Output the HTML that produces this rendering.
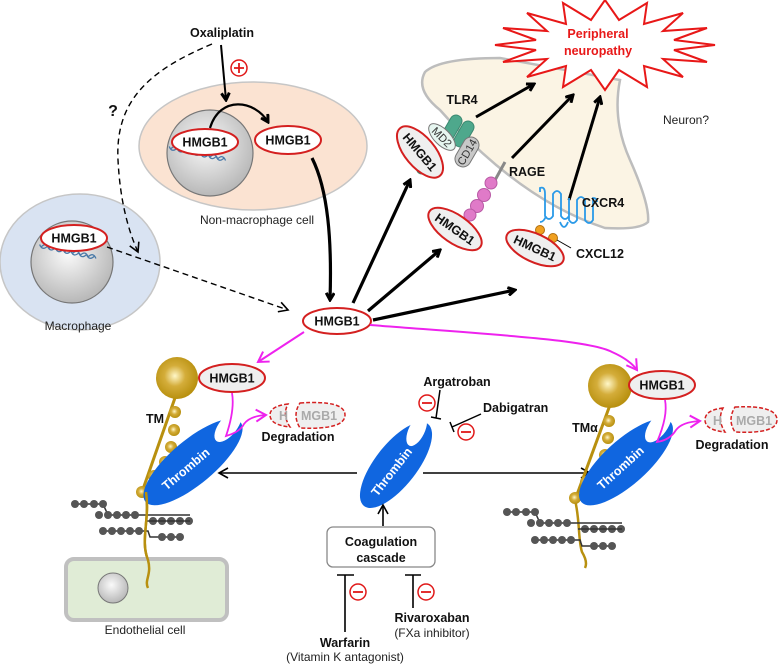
<!DOCTYPE html>
<html><head><meta charset="utf-8"><style>
html,body{margin:0;padding:0;background:#fff;}
svg{display:block;font-family:"Liberation Sans",Arial,sans-serif;}
.b{font-weight:bold;font-size:12.5px;fill:#111;}
.n{font-size:12px;fill:#222;}
</style></head><body>
<svg width="778" height="664" viewBox="0 0 778 664" xmlns="http://www.w3.org/2000/svg">
<defs>
<radialGradient id="nuc" cx="45%" cy="40%" r="60%"><stop offset="0" stop-color="#fafafa"/><stop offset="1" stop-color="#b8b8b8"/></radialGradient>
<radialGradient id="gold" cx="45%" cy="45%" r="55%"><stop offset="0" stop-color="#fff7c8"/><stop offset="0.45" stop-color="#d4ad3a"/><stop offset="1" stop-color="#b8900f"/></radialGradient>
<marker id="ah" markerWidth="10" markerHeight="10" refX="8" refY="5" orient="auto" markerUnits="userSpaceOnUse"><path d="M1,1 L8,5 L1,9" fill="none" stroke="#000" stroke-width="3"/></marker>
<marker id="ahs" markerWidth="12" markerHeight="12" refX="10" refY="6" orient="auto" markerUnits="userSpaceOnUse"><path d="M1,1 L10,6 L1,11" fill="none" stroke="#000" stroke-width="1.6"/></marker>
<marker id="ahm" markerWidth="14" markerHeight="14" refX="11" refY="7" orient="auto" markerUnits="userSpaceOnUse"><path d="M1,1 L11,7 L1,13" fill="none" stroke="#ee22ee" stroke-width="2"/></marker>
</defs>

<!-- Neuron -->
<path d="M425,72 Q440,58 500,58 L620,80 Q612,120 630,160 Q650,205 648,222 Q640,230 605,228 Q520,200 440,110 Q415,90 425,72 Z" fill="#fbf4e4" stroke="#bdbdbd" stroke-width="2.5"/>
<!-- starburst -->
<polygon points="715,45 674,50 707,62 663,59 683,77 644,66 647,87 619,70 605,90 591,70 563,87 566,66 527,77 547,59 503,62 536,50 495,45 536,40 503,28 547,31 527,13 566,24 563,3 591,20 605,0 619,20 647,3 644,24 683,13 663,31 707,28 674,40" fill="#fff" stroke="#e81818" stroke-width="2"/>
<text x="598" y="38" text-anchor="middle" style="font-weight:bold;font-size:12.5px;fill:#e81818">Peripheral</text>
<text x="598" y="55" text-anchor="middle" style="font-weight:bold;font-size:12.5px;fill:#e81818">neuropathy</text>
<text x="663" y="124" class="n">Neuron?</text>

<!-- Non-macrophage cell -->
<ellipse cx="253" cy="146" rx="114" ry="64" fill="#fbe3d2" stroke="#c6c6c6" stroke-width="1.5"/>
<circle cx="210" cy="153" r="43" fill="url(#nuc)" stroke="#777" stroke-width="1.2"/>
<path d="M168,152 q4,6 8,0 q4,6 8,0 q4,6 8,0 q4,6 8,0 q4,6 8,0 q4,6 8,0 q4,6 8,0 M170,154 q4,-6 8,0 q4,-6 8,0 q4,-6 8,0 q4,-6 8,0 q4,-6 8,0 q4,-6 8,0 q4,-6 8,0" fill="none" stroke="#4a7aa8" stroke-width="1.3" transform="rotate(12 195 155)"/>
<ellipse cx="205" cy="142" rx="33" ry="13" fill="#fff" stroke="#d42020" stroke-width="2"/>
<text x="205" y="146.5" text-anchor="middle" class="b">HMGB1</text>
<ellipse cx="288" cy="140" rx="33" ry="14" fill="#fff" stroke="#d42020" stroke-width="2"/>
<text x="288" y="144.5" text-anchor="middle" class="b">HMGB1</text>
<text x="257" y="224" text-anchor="middle" class="n">Non-macrophage cell</text>
<path d="M210,128 C220,95 255,100 268,122" fill="none" stroke="#000" stroke-width="2.2" marker-end="url(#ah)"/>
<text x="222" y="37" text-anchor="middle" class="b">Oxaliplatin</text>
<line x1="221" y1="45" x2="226" y2="100" stroke="#000" stroke-width="2" marker-end="url(#ah)"/>
<circle cx="239" cy="68" r="8" fill="#fff" stroke="#e01818" stroke-width="1.5"/>
<path d="M234,68 h10 M239,63 v10" stroke="#e01818" stroke-width="1.8"/>
<path d="M312,158 C328,190 332,240 330,300" fill="none" stroke="#000" stroke-width="3.2" marker-end="url(#ah)"/>

<!-- Macrophage -->
<ellipse cx="80" cy="262" rx="80" ry="68" fill="#d9e3f2" stroke="#c6c6c6" stroke-width="1.5"/>
<circle cx="72" cy="262" r="41" fill="url(#nuc)" stroke="#777" stroke-width="1.2"/>
<path d="M38,250 q4,6 8,0 q4,6 8,0 q4,6 8,0 q4,6 8,0 q4,6 8,0 q4,6 8,0 q4,6 8,0 M40,252 q4,-6 8,0 q4,-6 8,0 q4,-6 8,0 q4,-6 8,0 q4,-6 8,0 q4,-6 8,0 q4,-6 8,0" fill="none" stroke="#4a7aa8" stroke-width="1.3" transform="rotate(12 65 255)"/>
<ellipse cx="74" cy="238" rx="33" ry="13" fill="#fff" stroke="#d42020" stroke-width="2"/>
<text x="74" y="242.5" text-anchor="middle" class="b">HMGB1</text>
<text x="78" y="330" text-anchor="middle" class="n">Macrophage</text>
<text x="113" y="116" text-anchor="middle" style="font-weight:bold;font-size:16px;fill:#111">?</text>
<path d="M212,44 C150,70 115,100 118,160 C120,200 128,230 138,252" fill="none" stroke="#000" stroke-width="1.4" stroke-dasharray="6,4" marker-end="url(#ahs)"/>
<path d="M107,247 L288,310" fill="none" stroke="#000" stroke-width="1.4" stroke-dasharray="6,4" marker-end="url(#ahs)"/>

<!-- central HMGB1 -->
<ellipse cx="337" cy="321" rx="34" ry="13" fill="#fff" stroke="#d42020" stroke-width="2"/>
<text x="337" y="325.5" text-anchor="middle" class="b">HMGB1</text>
<line x1="353" y1="303" x2="410" y2="180" stroke="#000" stroke-width="3.2" marker-end="url(#ah)"/>
<line x1="368" y1="311" x2="440" y2="250" stroke="#000" stroke-width="3.2" marker-end="url(#ah)"/>
<line x1="373" y1="320" x2="515" y2="290" stroke="#000" stroke-width="3.2" marker-end="url(#ah)"/>

<!-- receptor arrows -->
<line x1="476" y1="117" x2="534" y2="84" stroke="#000" stroke-width="3" marker-end="url(#ah)"/>
<line x1="512" y1="158" x2="573" y2="95" stroke="#000" stroke-width="3" marker-end="url(#ah)"/>
<line x1="569" y1="200" x2="600" y2="97" stroke="#000" stroke-width="3" marker-end="url(#ah)"/>

<!-- TLR4 -->
<text x="462" y="104" text-anchor="middle" class="b">TLR4</text>
<g fill="#4ea88c" stroke="#3a8870" stroke-width="1">
<rect x="-6" y="-14" width="12" height="28" rx="6" transform="translate(452,128) rotate(30)"/>
<rect x="-6" y="-14" width="12" height="28" rx="6" transform="translate(464,134) rotate(30)"/>
<ellipse cx="416" cy="162" rx="5" ry="4"/><ellipse cx="422" cy="170" rx="5" ry="4"/>
</g>
<ellipse cx="0" cy="0" rx="17" ry="8" fill="#e6f6f0" stroke="#777" transform="translate(442,137) rotate(45)"/>
<text x="0" y="4" text-anchor="middle" font-size="11" fill="#333" transform="translate(442,137) rotate(45)">MD2</text>
<rect x="-16" y="-8" width="32" height="16" rx="8" fill="#c8c8c8" stroke="#777" transform="translate(467,152) rotate(-60)"/>
<text x="0" y="4" text-anchor="middle" font-size="11" fill="#333" transform="translate(467,152) rotate(-60)">CD14</text>
<g transform="translate(420,152) rotate(50)">
<ellipse rx="31" ry="15" fill="#efefef" stroke="#d42020" stroke-width="2"/>
<text y="4.5" text-anchor="middle" class="b">HMGB1</text></g>

<!-- RAGE -->
<line x1="505" y1="162" x2="494" y2="182" stroke="#888" stroke-width="3"/>
<g fill="#e07ac8" stroke="#b95aa5" stroke-width="1">
<circle cx="491" cy="183" r="6"/><circle cx="484" cy="195" r="6.5"/><circle cx="477" cy="206" r="6.5"/><circle cx="470" cy="215" r="6"/></g>
<text x="527" y="176" text-anchor="middle" class="b">RAGE</text>
<g transform="translate(455,229) rotate(35)">
<ellipse rx="31" ry="14" fill="#efefef" stroke="#d42020" stroke-width="2"/>
<text y="4.5" text-anchor="middle" class="b">HMGB1</text></g>

<!-- CXCR4 -->
<path d="M540,192 v-4 q5,-2 5,6 v22 q4,6 8,0 v-22 q4,-6 8,0 v22 q4,6 8,0 v-18 M569,200 v20 q4,6 8,0 v-20 q4,-6 8,0 v20 q4,6 8,0 v-22 q4,0 4,4 M546,216 q-2,6 -6,6 M560,222 q4,10 8,0" fill="none" stroke="#2a9ae8" stroke-width="1.8"/>
<text x="603" y="207" text-anchor="middle" class="b">CXCR4</text>
<circle cx="540" cy="230" r="4.5" fill="#f0a020" stroke="#b07010"/>
<circle cx="553" cy="238" r="4.5" fill="#f0a020" stroke="#b07010"/>
<line x1="557" y1="240" x2="571" y2="248" stroke="#000" stroke-width="1"/>
<text x="600" y="258" text-anchor="middle" class="b">CXCL12</text>
<g transform="translate(535,248) rotate(25)">
<ellipse rx="31" ry="14" fill="#efefef" stroke="#d42020" stroke-width="2"/>
<text y="4.5" text-anchor="middle" class="b">HMGB1</text></g>

<!-- magenta arrows -->
<path d="M304,332 L258,362" fill="none" stroke="#ee22ee" stroke-width="2" marker-end="url(#ahm)"/>
<path d="M370,325 C500,335 590,340 612,352 Q630,360 637,370" fill="none" stroke="#ee22ee" stroke-width="2" marker-end="url(#ahm)"/>

<!-- LEFT TM -->
<path d="M146,492 C150,520 140,540 148,560 C152,575 144,580 148,588" fill="none" stroke="#b8900f" stroke-width="2.5"/>
<line x1="176" y1="395" x2="142" y2="492" stroke="#b8900f" stroke-width="3"/>
<g fill="url(#gold)"><circle cx="175" cy="412" r="6"/><circle cx="174" cy="430" r="6"/><circle cx="171" cy="447" r="6"/><circle cx="165" cy="462" r="6"/><circle cx="154" cy="476" r="6"/><circle cx="142" cy="492" r="6"/></g>
<circle cx="177" cy="378" r="21" fill="url(#gold)"/>
<text x="155" y="423" text-anchor="middle" class="b">TM</text>
<ellipse cx="232" cy="378" rx="33" ry="14" fill="#efefef" stroke="#d42020" stroke-width="2"/>
<text x="232" y="382.5" text-anchor="middle" class="b">HMGB1</text>
<g transform="translate(193,462) rotate(-40)">
<ellipse rx="62" ry="22" fill="#1066e0"/>
<ellipse cx="50" cy="-5" rx="19" ry="9" fill="#fff" transform="rotate(-12 50 -5)"/>
<text x="-10" y="5" text-anchor="middle" style="font-weight:bold;font-size:12.5px;fill:#fff">Thrombin</text></g>
<path d="M232,393 C235,410 228,430 226,436 Q240,432 244,424 Q250,416 266,415" fill="none" stroke="#ee22ee" stroke-width="1.8" marker-end="url(#ahm)"/>
<g stroke="#d42020" stroke-width="1.5" stroke-dasharray="4,2" fill="#efefef">
<path d="M288,404 Q270,406 270,415 Q270,425 290,427 Q282,415 288,404 Z"/>
<path d="M300,403 Q345,400 345,415 Q345,430 300,428 Q292,415 300,403 Z"/></g>
<text x="279" y="420" class="b" style="fill:#aaa">H</text>
<text x="319" y="420" text-anchor="middle" class="b" style="fill:#aaa">MGB1</text>
<text x="298" y="441" text-anchor="middle" class="b">Degradation</text>
<!-- left glycans -->
<g stroke="#333" stroke-width="1.5" fill="none">
<path d="M75,504 H103 L108,515 H146 H190 M101,531 H148 L150,537 H180"/></g>
<g fill="#555"><circle cx="75" cy="504" r="4"/><circle cx="84" cy="504" r="4"/><circle cx="94" cy="504" r="4"/><circle cx="103" cy="504" r="4"/>
<circle cx="99" cy="515" r="4"/><circle cx="108" cy="515" r="4"/><circle cx="117" cy="515" r="4"/><circle cx="126" cy="515" r="4"/><circle cx="135" cy="515" r="4"/>
<circle cx="153" cy="521" r="4"/><circle cx="162" cy="521" r="4"/><circle cx="171" cy="521" r="4"/><circle cx="180" cy="521" r="4"/><circle cx="189" cy="521" r="4"/>
<circle cx="103" cy="531" r="4"/><circle cx="112" cy="531" r="4"/><circle cx="121" cy="531" r="4"/><circle cx="130" cy="531" r="4"/><circle cx="139" cy="531" r="4"/>
<circle cx="162" cy="537" r="4"/><circle cx="171" cy="537" r="4"/><circle cx="180" cy="537" r="4"/></g>
<line x1="146" y1="521" x2="190" y2="521" stroke="#333" stroke-width="1.5"/>
<!-- endothelial cell -->
<rect x="66" y="559" width="161" height="61" rx="8" fill="#e0ecd6" stroke="#c0c0c0" stroke-width="4"/>
<circle cx="113" cy="588" r="15" fill="url(#nuc)" stroke="#777"/>
<path d="M146,492 C150,520 140,540 148,560 C152,575 144,580 148,588" fill="none" stroke="#b8900f" stroke-width="2.5"/>
<text x="145" y="634" text-anchor="middle" class="n">Endothelial cell</text>

<!-- center thrombin -->
<line x1="357" y1="473" x2="219" y2="473" stroke="#000" stroke-width="1.6" marker-end="url(#ahs)"/>
<line x1="423" y1="473" x2="590" y2="473" stroke="#000" stroke-width="1.6" marker-end="url(#ahs)"/>
<g transform="translate(396,465) rotate(-52)">
<ellipse rx="52" ry="21" fill="#1066e0"/>
<ellipse cx="40" cy="-5" rx="17" ry="8" fill="#fff" transform="rotate(-12 40 -5)"/>
<text x="-8" y="5" text-anchor="middle" style="font-weight:bold;font-size:12.5px;fill:#fff">Thrombin</text></g>
<text x="457" y="386" text-anchor="middle" class="b">Argatroban</text>
<path d="M440,390 L436,418 M431,417 L441,419" stroke="#000" stroke-width="1.5" fill="none"/>
<circle cx="427" cy="403" r="8" fill="#fff" stroke="#e01818" stroke-width="1.5"/><line x1="422" y1="403" x2="432" y2="403" stroke="#e01818" stroke-width="1.8"/>
<text x="483" y="412" class="b">Dabigatran</text>
<path d="M481,414 L452,427 M450,422 L454,432" stroke="#000" stroke-width="1.5" fill="none"/>
<circle cx="466" cy="432" r="8" fill="#fff" stroke="#e01818" stroke-width="1.5"/><line x1="461" y1="432" x2="471" y2="432" stroke="#e01818" stroke-width="1.8"/>
<line x1="383" y1="526" x2="383" y2="505" stroke="#000" stroke-width="1.6" marker-end="url(#ahs)"/>
<rect x="327" y="527" width="108" height="40" rx="6" fill="#fff" stroke="#888" stroke-width="1.3"/>
<text x="381" y="546" text-anchor="middle" class="b">Coagulation</text>
<text x="381" y="562" text-anchor="middle" class="b">cascade</text>
<path d="M345,632 V575 M337,575 H354" stroke="#000" stroke-width="1.6" fill="none"/>
<circle cx="358" cy="592" r="8" fill="#fff" stroke="#e01818" stroke-width="1.5"/><line x1="353" y1="592" x2="363" y2="592" stroke="#e01818" stroke-width="1.8"/>
<path d="M413,608 V575 M405,575 H421" stroke="#000" stroke-width="1.6" fill="none"/>
<circle cx="426" cy="592" r="8" fill="#fff" stroke="#e01818" stroke-width="1.5"/><line x1="421" y1="592" x2="431" y2="592" stroke="#e01818" stroke-width="1.8"/>
<text x="345" y="647" text-anchor="middle" class="b">Warfarin</text>
<text x="345" y="661" text-anchor="middle" class="n">(Vitamin K antagonist)</text>
<text x="432" y="622" text-anchor="middle" class="b">Rivaroxaban</text>
<text x="432" y="637" text-anchor="middle" class="n">(FXa inhibitor)</text>

<!-- RIGHT TM -->
<path d="M575,500 C580,520 578,540 582,552 Q588,562 585,568" fill="none" stroke="#b8900f" stroke-width="2.5"/>
<line x1="610" y1="405" x2="575" y2="500" stroke="#b8900f" stroke-width="3"/>
<g fill="url(#gold)"><circle cx="609" cy="421" r="6"/><circle cx="608" cy="438" r="6"/><circle cx="605" cy="455" r="6"/><circle cx="598" cy="469" r="6"/><circle cx="586" cy="482" r="6"/><circle cx="575" cy="498" r="6"/></g>
<circle cx="610" cy="386" r="22" fill="url(#gold)"/>
<text x="585" y="432" text-anchor="middle" class="b">TMα</text>
<ellipse cx="662" cy="385" rx="33" ry="14" fill="#efefef" stroke="#d42020" stroke-width="2"/>
<text x="662" y="389.5" text-anchor="middle" class="b">HMGB1</text>
<g transform="translate(626,462) rotate(-42)">
<ellipse rx="60" ry="22" fill="#1066e0"/>
<ellipse cx="48" cy="-5" rx="19" ry="9" fill="#fff" transform="rotate(-12 48 -5)"/>
<text x="-8" y="5" text-anchor="middle" style="font-weight:bold;font-size:12.5px;fill:#fff">Thrombin</text></g>
<path d="M665,400 C668,415 660,435 657,442 Q670,440 676,430 Q682,422 700,421" fill="none" stroke="#ee22ee" stroke-width="1.8" marker-end="url(#ahm)"/>
<g stroke="#d42020" stroke-width="1.5" stroke-dasharray="4,2" fill="#efefef">
<path d="M723,408 Q705,410 705,420 Q705,430 725,432 Q717,420 723,408 Z"/>
<path d="M735,407 Q777,405 777,420 Q777,434 735,432 Q727,420 735,407 Z"/></g>
<text x="713" y="425" class="b" style="fill:#aaa">H</text>
<text x="754" y="425" text-anchor="middle" class="b" style="fill:#aaa">MGB1</text>
<text x="732" y="449" text-anchor="middle" class="b">Degradation</text>
<g stroke="#333" stroke-width="1.5" fill="none">
<path d="M507,512 H535 L540,523 H578 H622 M533,540 H580 L582,546 H612"/></g>
<g fill="#555"><circle cx="507" cy="512" r="4"/><circle cx="516" cy="512" r="4"/><circle cx="526" cy="512" r="4"/><circle cx="535" cy="512" r="4"/>
<circle cx="531" cy="523" r="4"/><circle cx="540" cy="523" r="4"/><circle cx="549" cy="523" r="4"/><circle cx="558" cy="523" r="4"/><circle cx="567" cy="523" r="4"/>
<circle cx="585" cy="529" r="4"/><circle cx="594" cy="529" r="4"/><circle cx="603" cy="529" r="4"/><circle cx="612" cy="529" r="4"/><circle cx="621" cy="529" r="4"/>
<circle cx="535" cy="540" r="4"/><circle cx="544" cy="540" r="4"/><circle cx="553" cy="540" r="4"/><circle cx="562" cy="540" r="4"/><circle cx="571" cy="540" r="4"/>
<circle cx="594" cy="546" r="4"/><circle cx="603" cy="546" r="4"/><circle cx="612" cy="546" r="4"/></g>
<line x1="578" y1="529" x2="622" y2="529" stroke="#333" stroke-width="1.5"/>
</svg>
</body></html>
